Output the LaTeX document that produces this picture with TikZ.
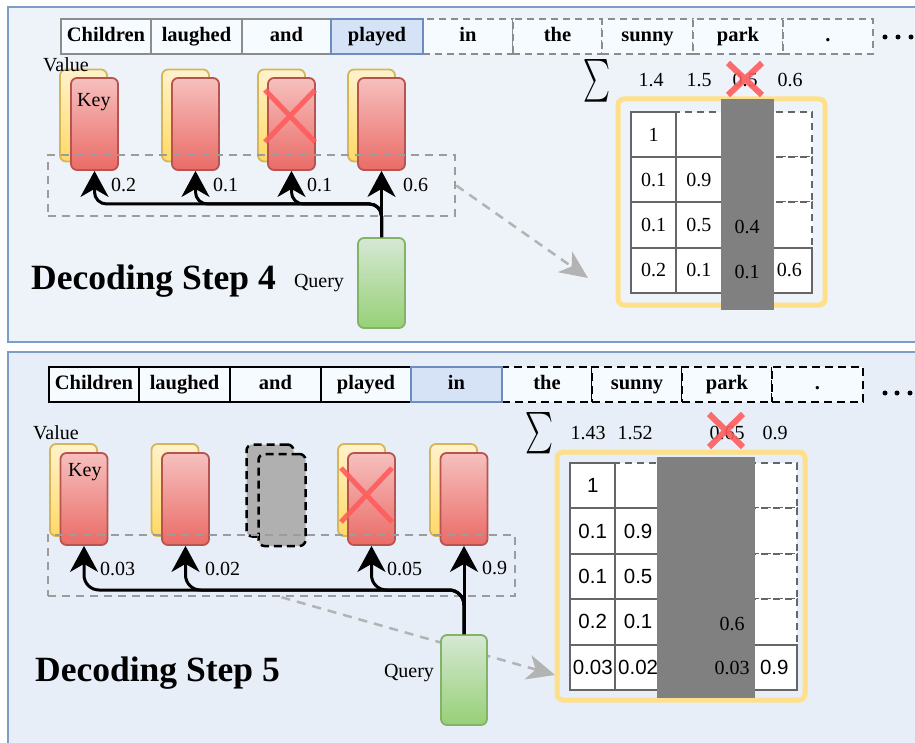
\documentclass[tikz,border=0pt]{standalone}
\usepackage{fontspec}
\setmainfont{Liberation Serif}
\newfontfamily\numsans{Liberation Sans}
\usetikzlibrary{arrows.meta}

\definecolor{panelA}{HTML}{EEF3FA}
\definecolor{panelB}{HTML}{E7EEF8}
\definecolor{panelline}{HTML}{7E9CC8}
\definecolor{tokfill}{HTML}{F6FBFF}
\definecolor{tokgray}{HTML}{8C8C8C}
\definecolor{curfill}{HTML}{D6E3F6}
\definecolor{curline}{HTML}{6C8EBF}
\definecolor{keytop}{HTML}{F6C0BE}
\definecolor{keybot}{HTML}{EA6B66}
\definecolor{keyline}{HTML}{B85450}
\definecolor{valtop}{HTML}{FFF2CC}
\definecolor{valbot}{HTML}{FFD966}
\definecolor{valline}{HTML}{D6B656}
\definecolor{qtop}{HTML}{D5E8D4}
\definecolor{qbot}{HTML}{97D077}
\definecolor{qline}{HTML}{82B366}
\definecolor{evict}{HTML}{FF5C5C}
\definecolor{hint}{HTML}{9C9C9C}
\definecolor{hintarrow}{HTML}{B3B3B3}
\definecolor{gridline}{HTML}{666666}
\definecolor{frame}{HTML}{FFE08A}
\definecolor{dropcol}{HTML}{808080}
\definecolor{gone}{HTML}{B0B0B0}

\tikzset{
  panel/.style={draw=panelline, line width=2pt},
  tokbase/.style={minimum height=35pt, inner sep=0pt, text height=14pt, text depth=4.5pt,
    font=\fontsize{20.5}{22}\selectfont\bfseries},
  tokA/.style={tokbase, draw=tokgray, line width=2pt, fill=tokfill},
  tokAd/.style={tokA, dash pattern=on 7pt off 5pt},
  tokB/.style={tokbase, draw=black, line width=2.5pt, fill=tokfill},
  tokBd/.style={tokB, dash pattern=on 8pt off 5pt},
  tokcur/.style={tokbase, draw=curline, line width=2pt, fill=curfill},
  dot/.style={circle, fill=black, inner sep=0pt, minimum size=5pt},
  card/.style={minimum width=47pt, minimum height=92pt, inner sep=0pt, rounded corners=6pt, line width=1.8pt},
  keybox/.style={card, draw=keyline, top color=keytop, bottom color=keybot},
  valbox/.style={card, draw=valline, top color=valtop, bottom color=valbot},
  gonebox/.style={card, draw=black, fill=gone, dash pattern=on 8pt off 5pt, line width=2.5pt},
  qbox/.style={minimum width=47pt, minimum height=90pt, inner sep=0pt, rounded corners=6pt,
    line width=1.8pt, draw=qline, top color=qtop, bottom color=qbot},
  hintbox/.style={draw=hint, line width=2.5pt, dash pattern=on 8pt off 6pt, inner sep=0pt},
  hintarr/.style={draw=hintarrow, line width=2.5pt, dash pattern=on 9pt off 7pt,
    -{Stealth[length=28pt 0 0,width=25pt 0 0,inset=8pt 0 0]}},
  conn/.style={line width=3pt, -{Stealth[length=26pt 0 0,width=28pt 0 0,inset=8pt 0 0]}, rounded corners=12pt},
  lbl/.style={font=\fontsize{20}{22}\selectfont, inner sep=0pt},
  title/.style={font=\fontsize{35.5}{38}\selectfont\bfseries, inner sep=0pt, anchor=west},
  xmark/.style={draw=evict, line width=5pt, opacity=0.9},
  cellbase/.style={minimum width=45.25pt, minimum height=45.25pt, inner sep=0pt, fill=white,
    draw=gridline, line width=2pt},
  scell/.style={cellbase, font=\fontsize{20}{22}\selectfont},
  dcell/.style={cellbase, dash pattern=on 7pt off 5pt},
  scellB/.style={scell, minimum width=45.4pt, minimum height=45.4pt, font=\numsans\fontsize{20.5}{22}\selectfont},
  dcellB/.style={dcell, minimum width=45.4pt, minimum height=45.4pt},
  frm/.style={draw=frame, line width=5pt, rounded corners=6pt},
}

\begin{document}
\begin{tikzpicture}[x=1pt,y=-1pt]
\useasboundingbox (0,0) rectangle (915,743);
\fill[white] (0,0) rectangle (915,743);

% ---------- panels ----------
\draw[panel, fill=panelA] (8,7) rectangle (930,342);
\draw[panel, fill=panelB] (8,352) rectangle (930,770);

% ================= Decoding step 4 =================
% token row
\node[tokA, minimum width=90pt] (t1) at (106,36.5) {Children};
\node[tokA, minimum width=91pt] (t2) at (196.5,36.5) {laughed};
\node[tokA, minimum width=89pt] (t3) at (286.5,36.5) {and};
\node[tokAd, minimum width=90pt] (t5) at (468,36.5) {in};
\node[tokAd, minimum width=89pt] (t6) at (557.5,36.5) {the};
\node[tokAd, minimum width=91pt] (t7) at (647.5,36.5) {sunny};
\node[tokAd, minimum width=90pt] (t8) at (738,36.5) {park};
\node[tokAd, minimum width=90pt] (t9) at (828,36.5) {.};
\node[tokcur, minimum width=92pt] (t4) at (377,36.5) {played};
\node[dot] (d1) at (885,37) {};
\node[dot] (d2) at (898,37) {};
\node[dot] (d3) at (911,37) {};

% key/value cache
\node[valbox] (v1) at (83.5,115.5) {};
\node[keybox] (k1) at (94.5,124) {};
\node[valbox] (v2) at (185.5,115.5) {};
\node[keybox] (k2) at (195.5,124) {};
\node[valbox] (v3) at (281.5,115.5) {};
\node[keybox] (k3) at (291.5,124) {};
\node[valbox] (v4) at (371.5,115.5) {};
\node[keybox] (k4) at (381.5,124) {};
\node[lbl, anchor=west] (lv4) at (43,65) {Value};
\node[lbl, anchor=west] (lk4) at (77,102) {Key};
\draw[xmark] (265,90) -- (315,142) (265,142) -- (315,90);

% query and attention
\node[qbox] (q4) at (381.5,283) {};
\node[lbl] (lq4) at (319,283) {Query};
\draw[conn] (q4.north) -- (q4.north |- 0,204) -- (k1.south |- 0,204) -- (k1.south);
\draw[conn] (q4.north) -- (q4.north |- 0,204) -- (k2.south |- 0,204) -- (k2.south);
\draw[conn] (q4.north) -- (q4.north |- 0,204) -- (k3.south |- 0,204) -- (k3.south);
\draw[conn] (q4.north) -- (k4.south);
\node[lbl, anchor=west] (w41) at (111,185) {0.2};
\node[lbl, anchor=west] (w42) at (213,185) {0.1};
\node[lbl, anchor=west] (w43) at (307,185) {0.1};
\node[lbl, anchor=west] (w44) at (403,185) {0.6};
\node[hintbox, minimum width=407pt, minimum height=61pt] (h4) at (251.5,185.5) {};
\node (lbl4) [title] at (31,281) {Decoding Step 4};

% accumulated attention matrix
\coordinate (e4) at (588,278);
\draw[hintarr] (h4.east) -- (e4);
\draw[frm] (618,99) rectangle (825,305);
\foreach \r in {1,2,3}{
  \foreach \c in {\r,...,3}{
    \pgfmathtruncatemacro\cc{\c+1}
    \node[dcell] (a\r\cc) at ({631+(\cc-0.5)*45.25},{112+(\r-0.5)*45.25}) {};
  }
}
\foreach \r/\c/\v in {1/1/1, 2/1/0.1, 2/2/0.9, 3/1/0.1, 3/2/0.5, 3/3/{}, 4/1/0.2, 4/2/0.1, 4/3/{}, 4/4/0.6}{
  \node[scell] (a\r\c) at ({631+(\c-0.5)*45.25},{112+(\r-0.5)*45.25}) {\v};
}
\fill[dropcol] (721,99) rectangle (774,310);
\node[lbl] (g43) at (747,227) {0.4};
\node[lbl] (g44) at (747,272) {0.1};
\node[inner sep=0pt] (s4) at (597,81) {\resizebox{27pt}{32pt}{$\sum$}};
\node[lbl] (c41) at (651,80) {1.4};
\node[lbl] (c42) at (699,80) {1.5};
\node[lbl] (c43) at (745,80) {0.5};
\node[lbl] (c44) at (790,80) {0.6};
\draw[xmark, line width=6pt] (728,63) -- (762,95) (728,95) -- (762,63);

% ================= Decoding step 5 =================
\node[tokB, minimum width=90pt] (u1) at (94,384.5) {Children};
\node[tokB, minimum width=91pt] (u2) at (184.5,384.5) {laughed};
\node[tokB, minimum width=91pt] (u3) at (275.5,384.5) {and};
\node[tokB, minimum width=90pt] (u4) at (366,384.5) {played};
\node[tokBd, minimum width=90pt] (u6) at (547,384.5) {the};
\node[tokBd, minimum width=90pt] (u7) at (637,384.5) {sunny};
\node[tokBd, minimum width=90pt] (u8) at (727,384.5) {park};
\node[tokBd, minimum width=91pt] (u9) at (817.5,384.5) {.};
\node[tokcur, minimum width=91pt] (u5) at (456.5,384.5) {in};
\node[dot] (d4) at (885,393) {};
\node[dot] (d5) at (897,393) {};
\node[dot] (d6) at (910,393) {};

% key/value cache
\node[valbox] (v5a) at (73.5,490) {};
\node[keybox] (k5a) at (84,499) {};
\node[valbox] (v5b) at (175,490) {};
\node[keybox] (k5b) at (185.5,499) {};
\node[gonebox] (v5c) at (270,490.5) {};
\node[gonebox] (k5c) at (282,500) {};
\node[valbox] (v5d) at (361.5,490) {};
\node[keybox] (k5d) at (371.5,499) {};
\node[valbox] (v5e) at (453.5,490) {};
\node[keybox] (k5e) at (464,499) {};
\node[lbl, anchor=west] (lv5) at (33,433) {Value};
\node[lbl, anchor=west] (lk5) at (68,472) {Key};
\draw[xmark] (341,468) -- (392,522) (341,522) -- (392,468);

% hint arrow runs behind the query box
\node[hintbox, minimum width=467pt, minimum height=61pt] (h5) at (281.5,565.5) {};
\coordinate (e5) at (555,675);
\draw[hintarr] (h5.south) -- (e5);

% query and attention
\node[qbox, minimum width=46pt] (q5) at (464,680) {};
\node[lbl] (lq5) at (409,673) {Query};
\draw[conn, rounded corners=15pt] (q5.north) -- (q5.north |- 0,590) -- (k5a.south |- 0,590) -- (k5a.south);
\draw[conn, rounded corners=15pt] (q5.north) -- (q5.north |- 0,590) -- (k5b.south |- 0,590) -- (k5b.south);
\draw[conn, rounded corners=15pt] (q5.north) -- (q5.north |- 0,590) -- (k5d.south |- 0,590) -- (k5d.south);
\draw[conn] (q5.north) -- (k5e.south);
\node[lbl, anchor=west] (w51) at (100,569) {0.03};
\node[lbl, anchor=west] (w52) at (205,569) {0.02};
\node[lbl, anchor=west] (w54) at (387,569) {0.05};
\node[lbl, anchor=west] (w55) at (482,568) {0.9};
\node (lbl5) [title] at (35,673) {Decoding Step 5};

% accumulated attention matrix
\draw[frm] (557,452) rectangle (805,700);
\foreach \r in {1,2,3,4}{
  \foreach \c in {\r,...,4}{
    \pgfmathtruncatemacro\cc{\c+1}
    \node[dcellB] (b\r\cc) at ({570+(\cc-0.5)*45.4},{463+(\r-0.5)*45.4}) {};
  }
}
\foreach \r/\c/\v in {1/1/1, 2/1/0.1, 2/2/0.9, 3/1/0.1, 3/2/0.5, 3/3/{}, 4/1/0.2, 4/2/0.1, 4/3/{}, 4/4/{},
                      5/1/0.03, 5/2/0.02, 5/3/{}, 5/4/{}, 5/5/0.9}{
  \node[scellB] (b\r\c) at ({570+(\c-0.5)*45.4},{463+(\r-0.5)*45.4}) {\v};
}
\fill[dropcol] (657,457) rectangle (755,698);
\node[lbl] (g54) at (732,624) {0.6};
\node[lbl] (g55) at (732,668) {0.03};
\node[inner sep=0pt] (s5) at (539,433) {\resizebox{28pt}{31pt}{$\sum$}};
\node[lbl] (c51) at (588,433) {1.43};
\node[lbl] (c52) at (635,433) {1.52};
\node[lbl] (c54) at (727,433) {0.65};
\node[lbl] (c55) at (775,433) {0.9};
\draw[xmark, line width=6pt] (709,414) -- (743,447) (709,447) -- (743,414);
\end{tikzpicture}
\end{document}
